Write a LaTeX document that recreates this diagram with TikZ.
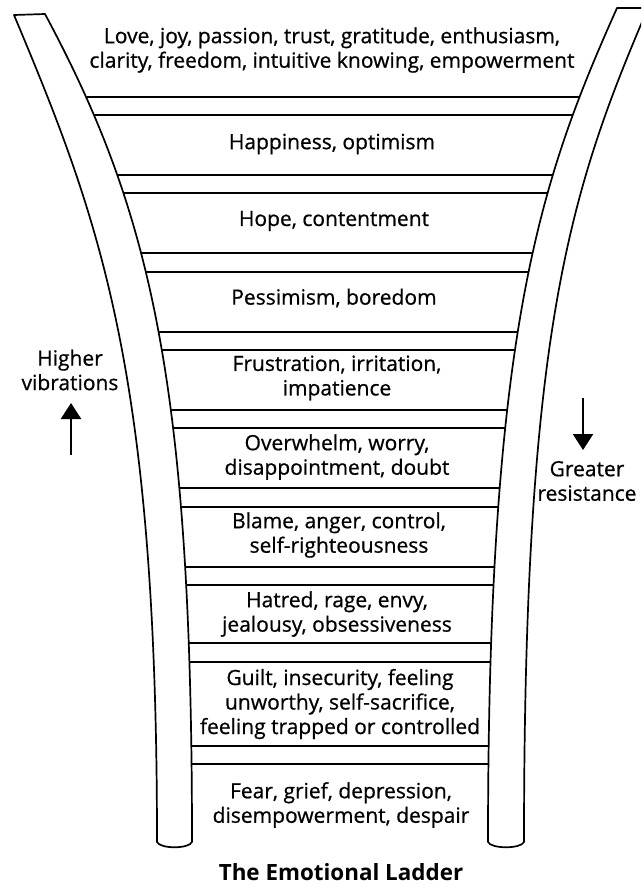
\documentclass[tikz,border=0pt]{standalone}
\usepackage{fontspec}
\setmainfont{Open Sans}
\newfontfamily\ladderfont{Open Sans}[FakeBold=0.7]
\usetikzlibrary{arrows.meta}
\tikzset{
  rail/.style={line width=1.7pt, line join=round},
  feel/.style={align=center, inner sep=0pt, font=\ladderfont\fontsize{21}{24.5}\selectfont},
  side/.style={align=center, inner sep=0pt, font=\ladderfont\fontsize{21}{24.5}\selectfont},
  updown/.style={line width=2.4pt, -{Triangle[length=16pt,width=20pt]}},
}

\begin{document}
\begin{tikzpicture}[x=1pt, y=-1pt]
    \useasboundingbox (0,0) rectangle (641,886);
    \clip (0,0) rectangle (641,886);
    \begin{scope}
        \clip (45,14) .. controls (150,210) and (192,380) .. (192,845) -- (488,845)
        .. controls (488,330) and (540,180) .. (617,8) -- cycle;
        \foreach \y in {97,115,175,193,253,272,332,350,410,428,488,507,567,585,643,662,746,764}
            \draw[rail] (0,\y) -- (641,\y);
    \end{scope}
    \draw[rail] (14,15) .. controls (100,220) and (157,370) .. (157,842)
        .. controls (160,849) and (189,849) .. (192,842)
        .. controls (192,380) and (150,210) .. (45,14) -- cycle;
    \draw[rail] (648,8) .. controls (570,190) and (524,330) .. (524,842)
        .. controls (521,849) and (491,849) .. (488,842)
        .. controls (488,330) and (540,180) .. (617,8) -- cycle;
    \node[feel] (love) at (332,50) {Love, joy, passion, trust, gratitude, enthusiasm,\\clarity, freedom, intuitive knowing, empowerment};
    \node[feel] (happy) at (332,144) {Happiness, optimism};
    \node[feel] (hope) at (334,221) {Hope, contentment};
    \node[feel] (pess) at (334,298) {Pessimism, boredom};
    \node[feel] (frust) at (337,378) {Frustration, irritation,\\impatience};
    \node[feel] (over) at (337,457) {Overwhelm, worry,\\disappointment, doubt};
    \node[feel] (blame) at (339,535) {Blame, anger, control,\\self-righteousness};
    \node[feel] (hate) at (337,614) {Hatred, rage, envy,\\jealousy, obsessiveness};
    \node[feel] (guilt) at (340,704) {Guilt, insecurity, feeling\\unworthy, self-sacrifice,\\feeling trapped or controlled};
    \node[feel] (fear) at (341,805) {Fear, grief, depression,\\disempowerment, despair};
    \node[feel, font=\bfseries\fontsize{22.4}{24}\selectfont] (title) at (341,872) {The Emotional Ladder};
    \node[side] (higher) at (70,370) {Higher\\vibrations};
    \coordinate (uptail) at (71,455);
    \coordinate (uptip) at (71,403);
    \draw[updown] (uptail) -- (uptip);
    \node[side] (greater) at (587,481) {Greater\\resistance};
    \coordinate (downtail) at (583,398);
    \coordinate (downtip) at (583,450);
    \draw[updown] (downtail) -- (downtip);
\end{tikzpicture}
\end{document}
